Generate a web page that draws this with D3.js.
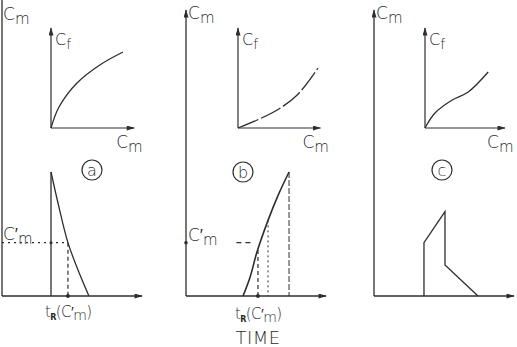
<!DOCTYPE html>
<html>
<head>
<meta charset="utf-8">
<script src="https://cdn.jsdelivr.net/npm/d3@7"></script>
<style>
  body { margin: 0; background: #fff; }
  text { font-family: "DejaVu Sans", sans-serif; font-weight: 200; fill: #2a2a2a; }
</style>
</head>
<body>
<div id="chart"></div>
<script>
// inner plots: Cf as a function of Cm  [Cm, Cf]
const cfA = [[0, 0], [0.1, 0.21], [0.325, 0.45], [0.61, 0.63], [0.9, 0.76]];
const cfB = [[0, 0], [0.24, 0.08], [0.49, 0.18], [0.74, 0.33], [1.0, 0.6]];
const cfC = [[0, 0], [0.125, 0.15], [0.34, 0.28], [0.54, 0.36], [0.79, 0.56]];

// lower plots: Cm against time  [t, Cm]
const timeA = [[3.5, 1], [4.0, 0.75], [4.71, 0.43], [5.43, 0.21], [6.21, 0]];
const timeB = [[4.07, 0], [4.57, 0.15], [5.07, 0.355], [5.86, 0.61], [6.57, 0.81], [7.36, 1]];
const timeC = [[3.57, 0], [3.57, 0.43], [5.07, 0.68], [5.07, 0.25], [7.43, 0]];

const cmPrime = 0.43;
const spikeA = 3.5;      // start of pulse a
const tRa = 4.71;
const tRb = 5.14;
const tMidB = 5.86;
const tEndB = 7.36;

const panelIds = ['a', 'b', 'c'];

const W = 517, H = 347;
const BASE = 296;
const INNER_BASE = 128;
const INK = '#2e2e2e';

// layout for each panel (pixel frames)
const LAYOUT = [
  { ox: 2, top: 0, ix: 51, ixEnd: 1.04, circle: [92, 170], cf: cfA, time: timeA },
  { ox: 186, top: 10, ix: 238, ixEnd: 1.03, circle: [243, 172], cf: cfB, time: timeB },
  { ox: 374, top: 10, ix: 425, ixEnd: 1.0, circle: [442, 170], cf: cfC, time: timeC }
];

const svg = d3.select('#chart').append('svg')
  .attr('width', W)
  .attr('height', H);

svg.append('defs').append('marker')
  .attr('id', 'arrow')
  .attr('viewBox', '0 0 10 6')
  .attr('refX', 9).attr('refY', 3)
  .attr('markerWidth', 9).attr('markerHeight', 5)
  .attr('markerUnits', 'userSpaceOnUse')
  .attr('orient', 'auto')
  .append('path')
  .attr('d', 'M0,0L10,3L0,6Z')
  .attr('fill', INK);

function seg(g, pts, opts = {}) {
  const p = g.append('path')
    .attr('d', d3.line()(pts))
    .attr('fill', 'none')
    .attr('stroke', INK)
    .attr('stroke-width', opts.w || 1.3);
  if (opts.dash) p.attr('stroke-dasharray', opts.dash);
  if (opts.arrow) p.attr('marker-end', 'url(#arrow)');
  return p;
}

function label(g, x, y, main, sub, prime, size = 17) {
  const t = g.append('text').attr('x', x).attr('y', y).attr('font-size', size);
  t.append('tspan').text(main + (prime ? '\u2032' : ''));
  t.append('tspan').attr('dy', 4).attr('font-size', size - 2).text(sub);
  return t;
}

function tRLabel(g, x, y) {
  const t = g.append('text').attr('x', x).attr('y', y).attr('font-size', 15)
    .attr('letter-spacing', -0.6);
  t.append('tspan').text('t');
  t.append('tspan').attr('dy', 3).attr('font-size', 8).attr('font-weight', 700).text('R');
  t.append('tspan').attr('dy', -3).text('(C\u2032');
  t.append('tspan').attr('dy', 3).attr('font-size', 14).text('m');
  t.append('tspan').attr('dy', -3).text(')');
}

LAYOUT.forEach((P, i) => {
  const g = svg.append('g').attr('class', 'panel-' + panelIds[i]);

  const tx = d3.scaleLinear().domain([0, 10]).range([P.ox, P.ox + 140]);
  const cy = d3.scaleLinear().domain([0, 1]).range([BASE, 172]);
  const ix = d3.scaleLinear().domain([0, 1]).range([P.ix, P.ix + 80]);
  const iy = d3.scaleLinear().domain([0, 1]).range([INNER_BASE, 28]);

  // outer axes
  seg(g, [[tx(0), cy(0)], [tx(0), P.top]], { arrow: i > 0 });
  seg(g, [[tx(0), cy(0)], [tx(10), cy(0)]], { arrow: true });
  label(g, tx(0) + (i === 0 ? 1 : 2), P.top + (i === 0 ? 20 : 9), 'C', 'm');

  // inner axes
  seg(g, [[ix(0), iy(0)], [ix(0), iy(1)]], { arrow: true, w: 1.2 });
  seg(g, [[ix(0), iy(0)], [ix(P.ixEnd), iy(0)]], { arrow: true, w: 1.2 });
  label(g, ix(0) + 4, iy(0.83), 'C', 'f', false, 16);
  label(g, ix(P.ixEnd) - 18, INNER_BASE + 20, 'C', 'm', false, 17);

  // inner curve
  g.append('path')
    .datum(P.cf)
    .attr('d', d3.line().x(d => ix(d[0])).y(d => iy(d[1])).curve(d3.curveCatmullRom))
    .attr('fill', 'none')
    .attr('stroke', INK)
    .attr('stroke-width', 1.3)
    .attr('stroke-dasharray', i === 1 ? '22,3' : null);

  // circled panel letter
  g.append('circle')
    .attr('cx', P.circle[0]).attr('cy', P.circle[1]).attr('r', 10)
    .attr('fill', 'none').attr('stroke', INK).attr('stroke-width', 1.2);
  g.append('text')
    .attr('x', P.circle[0]).attr('y', P.circle[1] + 5.5)
    .attr('text-anchor', 'middle')
    .attr('font-size', 16)
    .text(panelIds[i]);

  // lower time curve
  const tline = d3.line().x(d => tx(d[0])).y(d => cy(d[1]));
  if (i === 0) {
    seg(g, [[tx(spikeA), cy(0)], [tx(spikeA), cy(1)]]);
    g.append('path').datum(P.time)
      .attr('d', tline.curve(d3.curveCatmullRom))
      .attr('fill', 'none').attr('stroke', INK).attr('stroke-width', 1.3);
    seg(g, [[tx(0), cy(cmPrime)], [tx(tRa), cy(cmPrime)]], { dash: '2,4', w: 1.2 });
    seg(g, [[tx(tRa), cy(cmPrime)], [tx(tRa), cy(0)]], { dash: '4,3', w: 1.2 });
    g.append('circle').attr('cx', tx(tRa)).attr('cy', cy(0)).attr('r', 2).attr('fill', INK);
    g.append('circle').attr('cx', tx(spikeA)).attr('cy', cy(cmPrime)).attr('r', 1.5).attr('fill', INK);
    label(g, tx(0) + 1, cy(cmPrime) - 3, 'C', 'm', true, 17);
    tRLabel(g, 45, 317);
  } else if (i === 1) {
    g.append('path').datum(P.time)
      .attr('d', tline.curve(d3.curveCatmullRom))
      .attr('fill', 'none').attr('stroke', INK).attr('stroke-width', 1.6);
    seg(g, [[tx(tEndB), cy(1)], [tx(tEndB), cy(0)]], { w: 1, dash: '6,2' });
    seg(g, [[tx(tRb), cy(0.37)], [tx(tRb), cy(0)]], { dash: '4,3', w: 1.2 });
    seg(g, [[tx(tMidB), cy(0.61)], [tx(tMidB), cy(0)]], { dash: '2,3', w: 1 });
    seg(g, [[tx(3.6), cy(cmPrime)], [tx(4.6), cy(cmPrime)]], { dash: '5,4', w: 1.2 });
    g.append('circle').attr('cx', tx(tRb)).attr('cy', cy(0)).attr('r', 2).attr('fill', INK);
    g.append('circle').attr('cx', tx(0)).attr('cy', cy(cmPrime)).attr('r', 1.8).attr('fill', INK);
    label(g, tx(0) + 2, cy(cmPrime) - 2, 'C', 'm', true, 17);
    tRLabel(g, 235, 319);
    g.append('text').attr('x', 258).attr('y', 344)
      .attr('text-anchor', 'middle').attr('font-size', 18)
      .attr('letter-spacing', 0.5).text('TIME');
  } else {
    g.append('path').datum(P.time)
      .attr('d', tline)
      .attr('fill', 'none').attr('stroke', INK).attr('stroke-width', 1.3);
  }
});
</script>
</body>
</html>
